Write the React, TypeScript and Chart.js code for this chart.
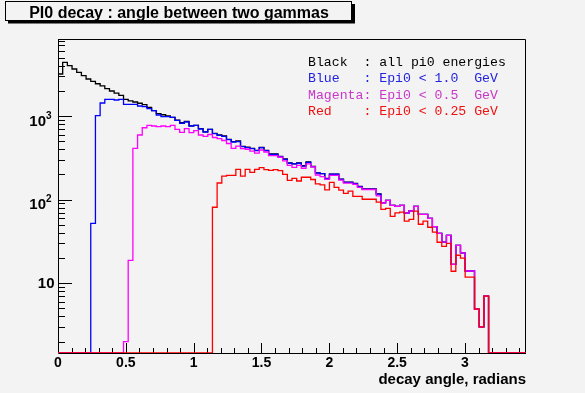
import React, { useEffect, useRef } from 'react';
import { Chart, registerables } from 'chart.js';

Chart.register(...registerables);

// ---------------- data ----------------
const TITLE = 'PI0 decay : angle between two gammas';
const X_TITLE = 'decay angle, radians';
const X_MIN = 0;
const X_MAX = 3.45;
const N_BINS = 100;
const Y_MIN = 1.462;
const Y_MAX = 8340;
const X_TICK_LABELS = ['0', '0.5', '1', '1.5', '2', '2.5', '3'];
const Y_DECADES = [10, 100, 1000];

const blackCounts = [
  3180, 4370, 4000, 3650, 3330, 3040, 2770, 2600, 2430, 2290,
  2120, 1990, 1880, 1770, 1580, 1520, 1470, 1420, 1365, 1270,
  1160, 1065, 1035, 1000, 965, 890, 832, 864, 760, 774,
  705, 645, 693, 621, 593, 577, 526, 493, 502, 434,
  423, 409, 387, 420, 387, 351, 351, 328, 306, 274,
  268, 274, 254, 282, 249, 209, 205, 179, 202, 202,
  176, 162, 162, 156, 144, 134, 134, 134, 117, 92,
  98, 85.5, 83, 85.5, 69, 73, 83, 66.7, 66.7, 59.7,
  47.6, 39.5, 31, 37.4, 16.8, 28.4, 23, 14, 14, 4.9,
  3, 7, 0, 0, 0, 0, 0, 0, 0, 0,
];

const blueCounts = [
  0, 0, 0, 0, 0, 0, 0, 52, 1008, 1430,
  1585, 1585, 1553, 1585, 1380, 1380, 1380, 1317, 1292, 1223,
  1157, 1028, 981, 981, 964, 889, 818, 848, 759, 774,
  699, 644, 693, 614, 587, 572, 521, 489, 493, 430,
  418, 407, 385, 418, 385, 348, 348, 326, 303, 272,
  267, 272, 252, 279, 248, 208, 204, 178, 201, 201,
  175, 161, 161, 155, 143, 133, 133, 133, 116, 91.5,
  98, 85.5, 83, 85.5, 69, 73, 83, 66.7, 66.7, 59.7,
  47.6, 39.5, 31, 37.4, 16.8, 28.4, 23, 14, 14, 4.9,
  3, 7, 0, 0, 0, 0, 0, 0, 0, 0,
];

const magentaCounts = [
  0, 0, 0, 0, 0, 0, 0, 0, 0, 0,
  0, 0, 0, 0, 2, 18.8, 411, 593, 724, 774,
  759, 745, 759, 745, 774, 693, 638, 705, 631, 667,
  593, 572, 601, 553, 535, 509, 469, 409, 437, 407,
  400, 380, 359, 392, 371, 335, 335, 321, 290, 257,
  243, 257, 237, 267, 246, 197, 188, 175, 195, 195,
  171, 157, 157, 152, 140, 132, 132, 132, 111, 91,
  98, 85.5, 83, 85.5, 69, 73, 83, 66.7, 66.7, 59.7,
  47.6, 39.5, 31, 37.4, 16.8, 28.4, 23, 14, 14, 4.9,
  3, 7, 0, 0, 0, 0, 0, 0, 0, 0,
];

const redCounts = [
  0, 0, 0, 0, 0, 0, 0, 0, 0, 0,
  0, 0, 0, 0, 0, 0, 0, 0, 0, 0,
  0, 0, 0, 0, 0, 0, 0, 0, 0, 0,
  0, 0, 0, 81, 158, 191, 195, 195, 230, 191,
  230, 212, 230, 241, 228, 224, 228, 222, 200, 170,
  179, 167, 185, 185, 174, 154, 150, 131, 161, 140,
  130, 119, 126, 109, 109, 101, 101, 101, 93.5, 76.6,
  78.7, 63.1, 69.2, 70.7, 55.2, 58.1, 72.6, 50.7, 55.2, 46.7,
  40.8, 30.9, 27.6, 30, 13.9, 21.6, 19.9, 11.8, 11.8, 4.9,
  3, 7, 0, 0, 0, 0, 0, 0, 0, 0,
];

const LEGEND_LINES = [
  'Black  : all pi0 energies',
  'Blue   : Epi0 < 1.0  GeV',
  'Magenta: Epi0 < 0.5  GeV',
  'Red    : Epi0 < 0.25 GeV',
];

// ---------------- styles ----------------
const BG = '#f3f3f3';
const SERIES_COLORS = ['#000000', '#0000ff', '#ff00ff', '#ff0000'];
const LEGEND_COLORS = ['#000000', '#2222e0', '#c838c8', '#f01010'];
const BOLD = '"Liberation Sans", Arial, Helvetica, sans-serif';

function histPoints(counts: number[]) {
  const w = (X_MAX - X_MIN) / N_BINS;
  const pts = counts.map((v, i) => ({ x: X_MIN + i * w, y: Math.max(v, Y_MIN) }));
  pts.push({ x: X_MAX, y: Math.max(counts[counts.length - 1], Y_MIN) });
  return pts;
}

const rootPlugin = {
  id: 'rootStyle',
  beforeDraw(chart: any) {
    const { ctx, width, height } = chart;
    ctx.save();
    ctx.fillStyle = BG;
    ctx.fillRect(0, 0, width, height);
    ctx.restore();
  },
  beforeDatasetsDraw(chart: any) {
    const { ctx, chartArea: a, scales } = chart;
    const x = scales.x;
    const y = scales.y;
    ctx.save();
    ctx.strokeStyle = '#000';
    ctx.lineWidth = 1;
    ctx.beginPath();
    // frame
    ctx.moveTo(a.left + 0.5, a.top + 0.5);
    ctx.lineTo(a.right - 0.5, a.top + 0.5);
    ctx.lineTo(a.right - 0.5, a.bottom + 0.5);
    ctx.moveTo(a.left + 0.5, a.top);
    ctx.lineTo(a.left + 0.5, a.bottom + 0.5);
    ctx.lineTo(a.right, a.bottom + 0.5);
    // x ticks
    for (let k = 0; k <= 34; k++) {
      const v = k / 10;
      const px = Math.round(x.getPixelForValue(v)) + 0.5;
      const len = k % 5 === 0 ? 10 : 5;
      ctx.moveTo(px, a.bottom);
      ctx.lineTo(px, a.bottom - len);
    }
    // y ticks
    for (let e = 0; e <= 3; e++) {
      for (let m = 1; m <= 9; m++) {
        const v = m * Math.pow(10, e);
        if (v < Y_MIN || v > Y_MAX) continue;
        const py = Math.round(y.getPixelForValue(v)) + 0.5;
        const len = m === 1 ? 14 : 7;
        ctx.moveTo(a.left, py);
        ctx.lineTo(a.left + len, py);
      }
    }
    ctx.stroke();
    ctx.restore();
  },
  afterDraw(chart: any) {
    const { ctx, chartArea: a, scales } = chart;
    const x = scales.x;
    const y = scales.y;
    ctx.save();
    ctx.fillStyle = '#000';
    // x tick labels
    ctx.font = `bold 14px ${BOLD}`;
    ctx.textAlign = 'center';
    ctx.textBaseline = 'alphabetic';
    X_TICK_LABELS.forEach((t) => {
      ctx.fillText(t, x.getPixelForValue(parseFloat(t)), 367);
    });
    // x title
    ctx.font = `bold 15px ${BOLD}`;
    ctx.textAlign = 'right';
    ctx.fillText(X_TITLE, a.right, 384);
    // y labels
    Y_DECADES.forEach((v) => {
      const py = y.getPixelForValue(v);
      const exp = Math.round(Math.log10(v));
      if (exp === 1) {
        ctx.font = `bold 15px ${BOLD}`;
        ctx.textAlign = 'right';
        ctx.fillText('10', 54.5, py + 5.3);
      } else {
        ctx.font = `bold 15px ${BOLD}`;
        ctx.textAlign = 'right';
        ctx.fillText('10', 46, py + 9.8);
        ctx.font = `bold 10px ${BOLD}`;
        ctx.textAlign = 'left';
        ctx.fillText(String(exp), 46, py + 2.5);
      }
    });
    // title box
    ctx.fillStyle = '#000';
    ctx.fillRect(8, 4, 347, 19.5);
    ctx.fillStyle = BG;
    ctx.fillRect(5, 1, 347, 20);
    ctx.strokeStyle = '#000';
    ctx.lineWidth = 1;
    ctx.strokeRect(5.5, 1.5, 346, 19);
    ctx.fillStyle = '#000';
    ctx.font = `bold 16px ${BOLD}`;
    ctx.textAlign = 'center';
    ctx.fillText(TITLE, 179, 17.5);
    // legend text
    ctx.font = '13.2px "Liberation Mono", "Courier New", monospace';
    ctx.textAlign = 'left';
    LEGEND_LINES.forEach((line, i) => {
      ctx.fillStyle = LEGEND_COLORS[i];
      ctx.fillText(line, 308, 66 + i * 16.4);
    });
    ctx.restore();
  },
};

export default function App() {
  const ref = useRef<HTMLCanvasElement | null>(null);

  useEffect(() => {
    const canvas = ref.current;
    if (!canvas) return;
    const series = [blackCounts, blueCounts, magentaCounts, redCounts];
    const chart = new Chart(canvas, {
      type: 'line',
      data: {
        datasets: series.map((c, i) => ({
          data: histPoints(c),
          borderColor: SERIES_COLORS[i],
          borderWidth: 1.3,
          pointRadius: 0,
          fill: false,
          stepped: 'before' as const,
          tension: 0,
          order: 4 - i,
        })),
      },
      options: {
        responsive: false,
        animation: false,
        events: [],
        layout: { padding: { left: 58, right: 59, top: 39, bottom: 40 } },
        plugins: { legend: { display: false }, tooltip: { enabled: false }, title: { display: false } },
        scales: {
          x: { type: 'linear', min: X_MIN, max: X_MAX, bounds: 'data', display: false },
          y: { type: 'logarithmic', min: Y_MIN, max: Y_MAX, bounds: 'data', display: false },
        },
      },
      plugins: [rootPlugin],
    });
    return () => chart.destroy();
  }, []);

  return (
    <div style={{ position: 'fixed', left: 0, top: 0, width: 585, height: 393, background: BG }}>
      <canvas ref={ref} width={585} height={393} style={{ display: 'block', width: 585, height: 393 }} />
    </div>
  );
}
